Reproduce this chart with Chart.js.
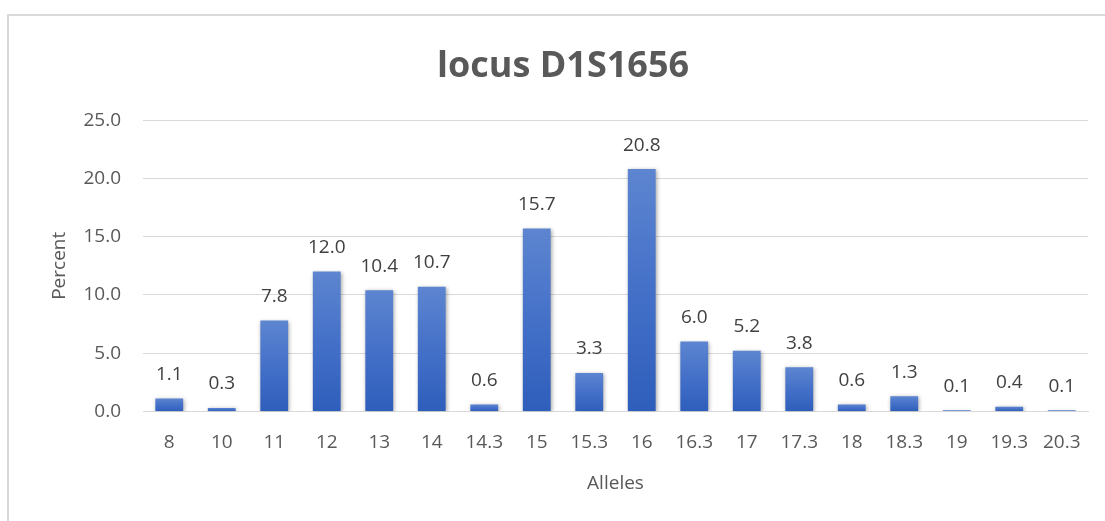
<!DOCTYPE html>
<html>
<head>
<meta charset="utf-8">
<script src="https://cdn.jsdelivr.net/npm/chart.js@4"></script>
<style>
  html, body { margin: 0; padding: 0; background: #fff; overflow: hidden; }
  #frame {
    position: absolute; left: 7px; top: 14px;
    width: 1120px; height: 520px;
    border: 2px solid #d9d9d9; box-sizing: border-box;
  }
  #chart { position: absolute; left: 0; top: 0; }
</style>
</head>
<body>
<div id="frame"><canvas id="chart" width="1116" height="516"></canvas></div>
<script>
// allele frequencies
const alleles = ["8", "10", "11", "12", "13", "14", "14.3", "15", "15.3", "16",
                 "16.3", "17", "17.3", "18", "18.3", "19", "19.3", "20.3"];
const percent = [1.1, 0.3, 7.8, 12.0, 10.4, 10.7, 0.6, 15.7, 3.3, 20.8,
                 6.0, 5.2, 3.8, 0.6, 1.3, 0.1, 0.4, 0.1];
const yTicks = [0, 5, 10, 15, 20, 25];

const FONT = "'Open Sans', sans-serif";
const TEXT = "#595959";

// each bar gets its own top-to-bottom gradient
function barFill(context) {
    const chart = context.chart;
    const y = chart.scales.y;
    if (!chart.chartArea || !y || context.raw == null) return "#4472c4";
    const top = y.getPixelForValue(context.raw);
    const bottom = y.getPixelForValue(0);
    if (!isFinite(top) || !isFinite(bottom) || bottom - top < 1) return "#3c69c2";
    const g = chart.ctx.createLinearGradient(0, top, 0, bottom);
    g.addColorStop(0, "#5d85d0");
    g.addColorStop(0.5, "#4470c8");
    g.addColorStop(1, "#2e5ebb");
    return g;
}

const barShadow = {
    id: "barShadow",
    beforeDatasetDraw(chart) {
        const ctx = chart.ctx;
        ctx.save();
        ctx.shadowColor = "rgba(0,0,0,0.35)";
        ctx.shadowBlur = 4;
        ctx.shadowOffsetX = 1;
        ctx.shadowOffsetY = 1;
    },
    afterDatasetDraw(chart) {
        chart.ctx.restore();
    },
};

const valueLabels = {
    id: "valueLabels",
    afterDatasetsDraw(chart) {
        const ctx = chart.ctx;
        const meta = chart.getDatasetMeta(0);
        ctx.save();
        ctx.font = "19px " + FONT;
        ctx.fillStyle = "#404040";
        ctx.textAlign = "center";
        ctx.textBaseline = "middle";
        meta.data.forEach((bar, i) => {
            ctx.fillText(percent[i].toFixed(1), bar.x, bar.y - 24);
        });
        ctx.restore();
    },
};

new Chart(document.getElementById("chart"), {
    type: "bar",
    data: {
        labels: alleles,
        datasets: [{
            data: percent,
            backgroundColor: barFill,
            borderWidth: 0,
            categoryPercentage: 1,
            barPercentage: 0.53,
        }],
    },
    options: {
        responsive: false,
        animation: false,
        layout: { padding: { left: 0, right: 8, top: 0, bottom: 37 } },
        plugins: {
            legend: { display: false },
            tooltip: { enabled: false },
            title: {
                display: true,
                text: "locus D1S1656",
                color: TEXT,
                font: { family: FONT, size: 36, weight: "bold", lineHeight: 1.2 },
                padding: { top: 29, bottom: 32 },
            },
        },
        scales: {
            x: {
                grid: { display: false, drawTicks: false },
                border: { display: true, color: "#d9d9d9", width: 1 },
                ticks: { color: TEXT, font: { family: FONT, size: 19 }, padding: 20, maxRotation: 0, autoSkip: false },
                title: {
                    display: true, text: "Alleles", color: TEXT,
                    font: { family: FONT, size: 19 }, padding: { top: -2, bottom: 0 },
                },
            },
            y: {
                min: 0, max: 25,
                afterBuildTicks: (axis) => { axis.ticks = yTicks.map((v) => ({ value: v })); },
                afterFit: (axis) => { axis.width = 134; },
                grid: { color: "#d9d9d9", lineWidth: 1, drawTicks: false },
                border: { display: false },
                ticks: {
                    color: TEXT, font: { family: FONT, size: 19 }, padding: 22,
                    callback: (v) => Number(v).toFixed(1),
                },
                title: {
                    display: true, text: "Percent", color: TEXT,
                    font: { family: FONT, size: 19 }, padding: { top: 39, bottom: 0 },
                },
            },
            // empty right-hand spacer so the plot ends where the reference does
            spacer: {
                position: "right",
                grid: { display: false, drawTicks: false },
                border: { display: false },
                ticks: { display: false },
                afterFit: (axis) => { axis.width = 29; },
            },
        },
    },
    plugins: [barShadow, valueLabels],
});
</script>
</body>
</html>
